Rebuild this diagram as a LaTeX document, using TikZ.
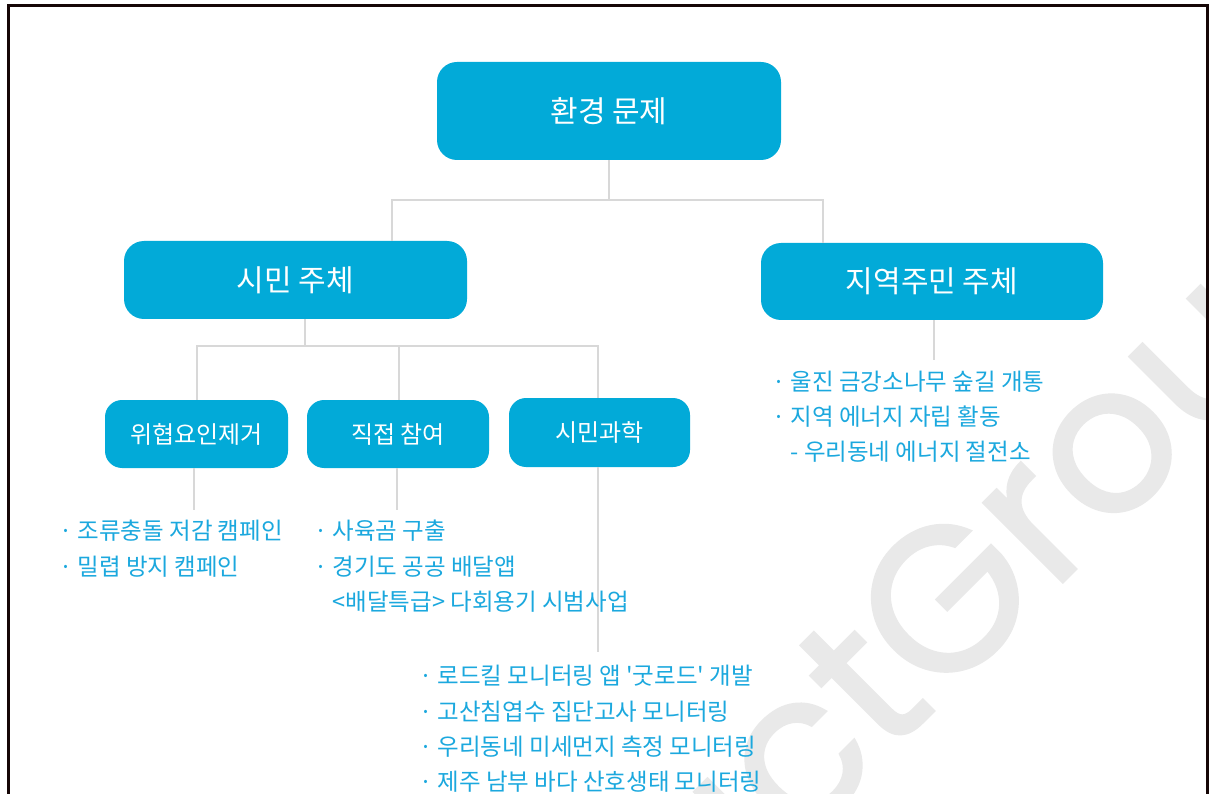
\documentclass[tikz,border=0pt]{standalone}
\usepackage{fontspec}
\setmainfont{Noto Sans CJK KR}
\newfontfamily\krfont{Noto Sans CJK KR}
\newfontfamily\wmfont{Poppins}[FakeBold=1.2]
\definecolor{boxblue}{RGB}{2,170,216}
\definecolor{txtblue}{RGB}{27,168,222}
\definecolor{lngray}{RGB}{216,216,216}
\definecolor{wmgray}{RGB}{233,233,233}
\definecolor{frameclr}{RGB}{22,6,6}
\begin{document}
\begin{tikzpicture}[x=1pt,y=-1pt,
  bigbox/.style={fill=boxblue, rounded corners=20pt, text=white, inner sep=0pt, font=\krfont\fontsize{30}{30}\selectfont},
  smallbox/.style={fill=boxblue, rounded corners=17pt, text=white, inner sep=0pt, font=\krfont\fontsize{24}{24}\selectfont},
  conn/.style={draw=lngray, line width=1.8pt},
  item/.style={anchor=base west, inner sep=0pt, text=txtblue, font=\krfont\fontsize{23.5}{23.5}\selectfont},
  wm/.style={anchor=base west, inner sep=0pt, text=wmgray, rotate=45, font=\wmfont\fontsize{205}{205}\selectfont}
]
\useasboundingbox (0,0) rectangle (1210,794);
\fill[white] (0,0) rectangle (1210,794);

% watermark
\begin{scope}
  \clip (8,6) rectangle (1207,794);
  \node[wm] (wmark) at (700,945) {actGroup};
\end{scope}

% frame
\draw[frameclr, line width=3pt] (8,794) -- (8,6) -- (1207,6) -- (1207,794);

% boxes
\node[bigbox, minimum width=344pt, minimum height=98pt] (root) at (609,111) {환경 문제};
\node[bigbox, minimum width=343pt, minimum height=78pt] (citizen) at (295.5,280) {시민 주체};
\node[bigbox, minimum width=342pt, minimum height=77pt] (resident) at (932,281.5) {지역주민 주체};
\node[smallbox, minimum width=183pt, minimum height=68pt] (threat) at (196.5,434) {위협요인제거};
\node[smallbox, minimum width=182pt, minimum height=68pt] (direct) at (398,434) {직접 참여};
\node[smallbox, minimum width=181pt, minimum height=69pt] (science) at (599.5,432.5) {시민과학};

% connectors: level 1
\coordinate (ja) at (392,200);
\coordinate (jb) at (823,200);
\draw[conn] (root.south) -- (root.south |- ja);
\draw[conn] (ja |- citizen.north) -- (ja) -- (jb) -- (jb |- resident.north);

% connectors: level 2
\coordinate (ka) at (197,346);
\coordinate (kb) at (399,346);
\coordinate (kc) at (598,346);
\coordinate (kd) at (305,346);
\draw[conn] (kd |- citizen.south) -- (kd);
\draw[conn] (ka |- threat.north) -- (ka) -- (kc) -- (kc |- science.north);
\draw[conn] (kb) -- (kb |- direct.north);

% connectors to lists
\coordinate (la) at (194,510);
\coordinate (lb) at (397,510);
\coordinate (lc) at (598,652);
\coordinate (ld) at (934,360);
\draw[conn] (la |- threat.south) -- (la);
\draw[conn] (lb |- direct.south) -- (lb);
\draw[conn] (lc |- science.south) -- (lc);
\draw[conn] (ld |- resident.south) -- (ld);

% lists
\node[item] (a1) at (59,539) {· 조류충돌 저감 캠페인};
\node[item] (a2) at (59,575) {· 밀렵 방지 캠페인};

\node[item] (b1) at (314,539) {· 사육곰 구출};
\node[item] (b2) at (314,575) {· 경기도 공공 배달앱};
\node[item] (b3) at (314,610) {\phantom{· }<배달특급> 다회용기 시범사업};

\node[item] (c1) at (419,684) {· 로드킬 모니터링 앱 '굿로드' 개발};
\node[item] (c2) at (419,720) {· 고산침엽수 집단고사 모니터링};
\node[item] (c3) at (419,755) {· 우리동네 미세먼지 측정 모니터링};
\node[item] (c4) at (419,790) {· 제주 남부 바다 산호생태 모니터링};

\node[item] (d1) at (772,390) {· 울진 금강소나무 숲길 개통};
\node[item] (d2) at (772,425) {· 지역 에너지 자립 활동};
\node[item] (d3) at (772,460) {\phantom{· }- 우리동네 에너지 절전소};
\end{tikzpicture}
\end{document}
